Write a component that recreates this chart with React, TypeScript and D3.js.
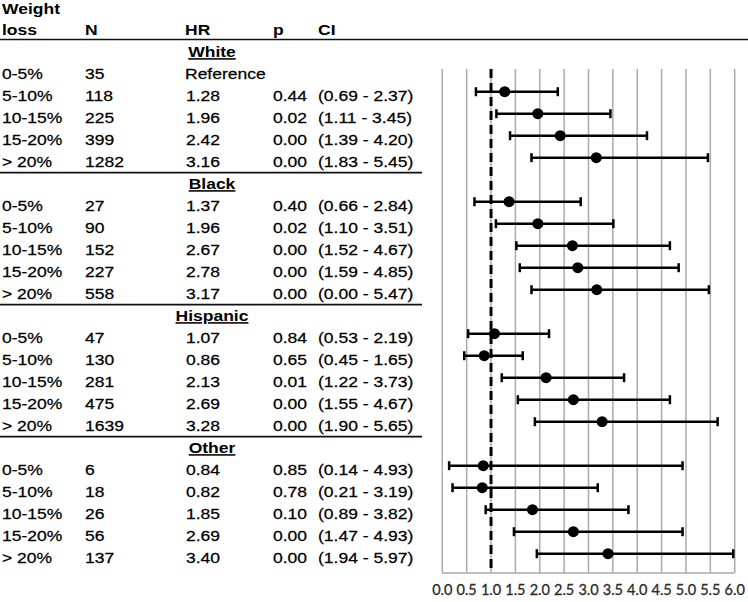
import React, { useEffect, useRef } from 'react';
import * as d3 from 'd3';

// table / forest plot data
const groups = ['White', 'Black', 'Hispanic', 'Other'];
const weightLoss = ['0-5%', '5-10%', '10-15%', '15-20%', '> 20%'];
const nValues = [
  [35, 118, 225, 399, 1282],
  [27, 90, 152, 227, 558],
  [47, 130, 281, 475, 1639],
  [6, 18, 26, 56, 137],
];
const hrValues = [
  [null, 1.28, 1.96, 2.42, 3.16],
  [1.37, 1.96, 2.67, 2.78, 3.17],
  [1.07, 0.86, 2.13, 2.69, 3.28],
  [0.84, 0.82, 1.85, 2.69, 3.4],
];
const pValues = [
  [null, 0.44, 0.02, 0.0, 0.0],
  [0.4, 0.02, 0.0, 0.0, 0.0],
  [0.84, 0.65, 0.01, 0.0, 0.0],
  [0.85, 0.78, 0.1, 0.0, 0.0],
];
const ciLow = [
  [null, 0.69, 1.11, 1.39, 1.83],
  [0.66, 1.1, 1.52, 1.59, 0.0],
  [0.53, 0.45, 1.22, 1.55, 1.9],
  [0.14, 0.21, 0.89, 1.47, 1.94],
];
const ciHigh = [
  [null, 2.37, 3.45, 4.2, 5.45],
  [2.84, 3.51, 4.67, 4.85, 5.47],
  [2.19, 1.65, 3.73, 4.67, 5.65],
  [4.93, 3.19, 3.82, 4.93, 5.97],
];
// lower bounds as drawn in the plot (Black > 20% bar starts at 1.83, not 0.00)
const plotLow = [
  [null, 0.69, 1.11, 1.39, 1.83],
  [0.66, 1.1, 1.52, 1.59, 1.83],
  [0.53, 0.45, 1.22, 1.55, 1.9],
  [0.14, 0.21, 0.89, 1.47, 1.94],
];
const xTicks = [0, 0.5, 1, 1.5, 2, 2.5, 3, 3.5, 4, 4.5, 5, 5.5, 6];
const referenceHR = 1;

const App = () => {
  const svgRef = useRef(null);

  useEffect(() => {
    const svg = d3.select(svgRef.current);
    svg.selectAll('*').remove();

    const width = 748;
    const font = "'Liberation Sans', Arial, sans-serif";
    const stretch = 1.13; // table text is a bit wide

    const x = d3.scaleLinear().domain([0, 6]).range([442.3, 734.7]);
    // one slot per row: group title + 5 rows per group
    const rowY = d3.scaleLinear().domain([0, 23]).range([47.7, 553.7]);
    const plotTop = 69;
    const plotBottom = 573;

    const addText = (g, tx, ty, str, opts = {}) => {
      const t = g.append('text')
        .attr('transform', `translate(${tx},${ty}) scale(${stretch},1)`)
        .attr('font-family', font)
        .attr('font-size', 15.5)
        .attr('fill', '#000')
        .attr('text-anchor', opts.anchor || 'start')
        .attr('font-weight', opts.bold ? 'bold' : 'normal')
        .text(str);
      if (!opts.bold) t.attr('stroke', '#000').attr('stroke-width', 0.25);
      if (opts.underline) t.attr('text-decoration', 'underline');
      return t;
    };

    const table = svg.append('g');

    // header
    addText(table, 2, 13.5, 'Weight', { bold: true });
    addText(table, 2, 35, 'loss', { bold: true });
    addText(table, 85, 35, 'N', { bold: true });
    addText(table, 185, 35, 'HR', { bold: true });
    addText(table, 273, 35, 'p', { bold: true });
    addText(table, 318, 35, 'CI', { bold: true });

    table.append('line')
      .attr('x1', 0).attr('x2', width)
      .attr('y1', 39.5).attr('y2', 39.5)
      .attr('stroke', '#111').attr('stroke-width', 1.6);

    const cols = { label: 2, n: 85, hr: 186, p: 273, ci: 318 };
    const fmt = d3.format('.2f');

    // gridlines
    const plot = svg.append('g');
    plot.selectAll('line.grid')
      .data(xTicks)
      .join('line')
      .attr('class', 'grid')
      .attr('x1', d => x(d)).attr('x2', d => x(d))
      .attr('y1', plotTop).attr('y2', plotBottom)
      .attr('stroke', '#ababab')
      .attr('stroke-width', 1.5);
    plot.append('line')
      .attr('x1', x(0)).attr('x2', x(6))
      .attr('y1', plotBottom).attr('y2', plotBottom)
      .attr('stroke', '#ababab')
      .attr('stroke-width', 1.5);

    plot.append('line')
      .attr('x1', x(referenceHR)).attr('x2', x(referenceHR))
      .attr('y1', plotTop).attr('y2', plotBottom - 4)
      .attr('stroke', '#000')
      .attr('stroke-width', 3)
      .attr('stroke-dasharray', '9,5');

    // tick labels
    plot.selectAll('text.tick')
      .data(xTicks)
      .join('text')
      .attr('class', 'tick')
      .attr('x', d => x(d))
      .attr('y', 595)
      .attr('text-anchor', 'middle')
      .attr('font-family', "Lato, 'Open Sans', sans-serif")
      .attr('font-size', 14.5)
      .attr('fill', '#2b2b2b')
      .attr('stroke', '#2b2b2b')
      .attr('stroke-width', 0.3)
      .text(d => d.toFixed(1));

    groups.forEach((grp, gi) => {
      const base = gi * 6;
      addText(table, 212, rowY(base) + 9.5, grp, { bold: true, underline: true, anchor: 'middle' });

      if (gi > 0) {
        const ly = (rowY(base - 1) + rowY(base)) / 2 + 4;
        table.append('line')
          .attr('x1', 0).attr('x2', 422)
          .attr('y1', ly).attr('y2', ly)
          .attr('stroke', '#111').attr('stroke-width', 1.8);
      }

      weightLoss.forEach((wl, ri) => {
        const yy = rowY(base + 1 + ri);
        const ty = yy + 9.5;
        addText(table, cols.label, ty, wl);
        addText(table, cols.n, ty, String(nValues[gi][ri]));
        const hr = hrValues[gi][ri];
        if (hr == null) {
          addText(table, 185, ty, 'Reference');
          return;
        }
        addText(table, cols.hr, ty, fmt(hr));
        addText(table, cols.p, ty, fmt(pValues[gi][ri]));
        addText(table, cols.ci, ty, `(${fmt(ciLow[gi][ri])} - ${fmt(ciHigh[gi][ri])})`);

        // error bar
        const lo = plotLow[gi][ri];
        const hi = ciHigh[gi][ri];
        plot.append('line')
          .attr('x1', x(lo)).attr('x2', x(hi))
          .attr('y1', yy).attr('y2', yy)
          .attr('stroke', '#000').attr('stroke-width', 2.5);
        [lo, hi].forEach(v => {
          plot.append('line')
            .attr('x1', x(v)).attr('x2', x(v))
            .attr('y1', yy - 4.5).attr('y2', yy + 4.5)
            .attr('stroke', '#000').attr('stroke-width', 2.5);
        });
        plot.append('circle')
          .attr('cx', x(hr))
          .attr('cy', yy)
          .attr('r', 5.5)
          .attr('fill', '#000');
      });
    });
  }, []);

  return (
    <svg
      ref={svgRef}
      width="748"
      height="602"
      style={{ position: 'absolute', left: 0, top: 0, background: '#fff' }}
    ></svg>
  );
};

export default App;
